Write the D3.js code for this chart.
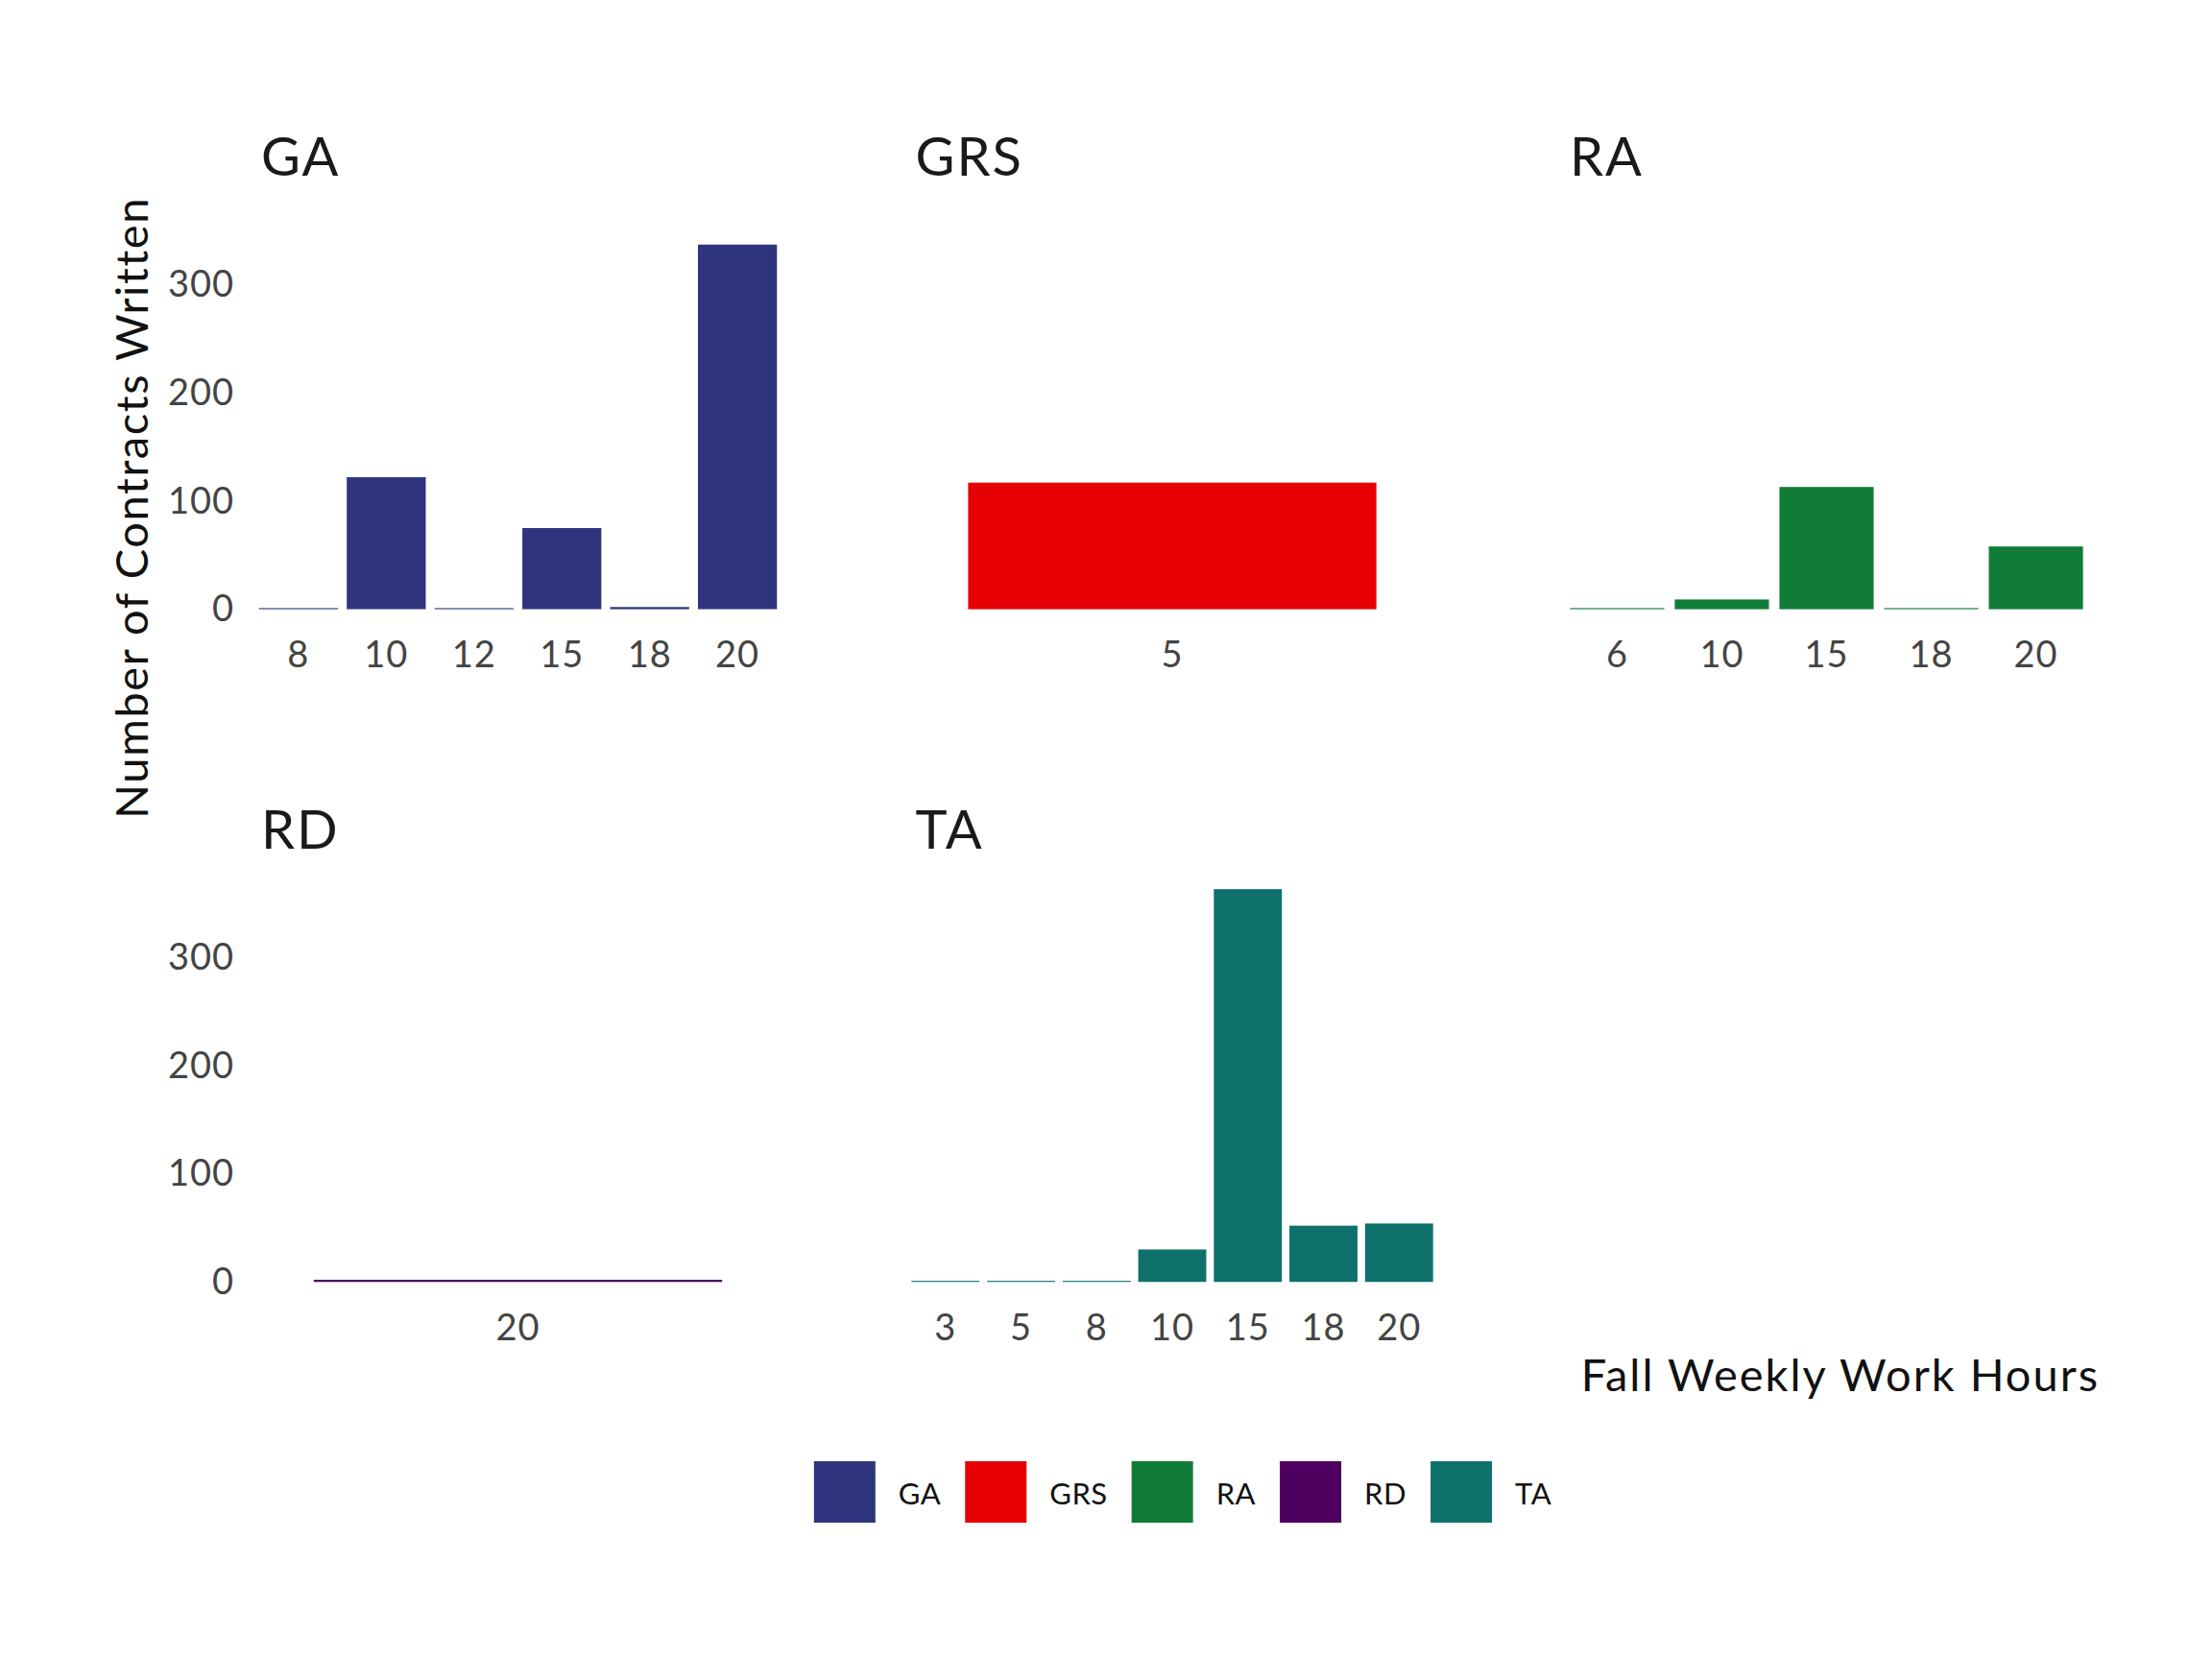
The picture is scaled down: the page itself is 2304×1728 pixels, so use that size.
<!DOCTYPE html>
<html>
<head>
<meta charset="utf-8">
<script src="https://cdn.jsdelivr.net/npm/d3@7"></script>
<style>
  body { margin: 0; background: #fff; }
  text { font-family: Lato, "Open Sans", sans-serif; }
</style>
</head>
<body>
<svg id="chart"></svg>
<script>
// contract types (facets) and their fill colours
const contractTypes = ["GA", "GRS", "RA", "RD", "TA"];
const typeColors = ["#2E357E", "#E60005", "#117C38", "#4D0060", "#0E716C"];

// weekly hours (x categories) and contract counts per facet
const hoursGA = ["8", "10", "12", "15", "18", "20"];
const countsGA = [1, 122, 1, 75, 2, 337];

const hoursGRS = ["5"];
const countsGRS = [117];

const hoursRA = ["6", "10", "15", "18", "20"];
const countsRA = [1, 9, 113, 1, 58];

const hoursRD = ["20"];
const countsRD = [2];

const hoursTA = ["3", "5", "8", "10", "15", "18", "20"];
const countsTA = [1, 1, 1, 30, 363, 52, 54];

const yTicks = [0, 100, 200, 300];

const facetData = {
  GA: { hours: hoursGA, counts: countsGA },
  GRS: { hours: hoursGRS, counts: countsGRS },
  RA: { hours: hoursRA, counts: countsRA },
  RD: { hours: hoursRD, counts: countsRD },
  TA: { hours: hoursTA, counts: countsTA }
};

const width = 2304;
const height = 1728;

const svg = d3.select("#chart")
  .attr("width", width)
  .attr("height", height);

svg.append("rect")
  .attr("width", width)
  .attr("height", height)
  .attr("fill", "#fff");

// facet grid geometry
const panelW = 567;
const panelH = 450;
const colX = [256, 937.5, 1619];
const rowY = [205, 905.7];

// shared y scale (ggplot style 5% expansion on both ends)
const yMax = d3.max([countsGA, countsGRS, countsRA, countsRD, countsTA].flat());
const pad = yMax * 0.05;
const yScale = d3.scaleLinear()
  .domain([-pad, yMax + pad])
  .range([panelH, 0]);

const color = d3.scaleOrdinal().domain(contractTypes).range(typeColors);

contractTypes.forEach((type, i) => {
  const col = i % 3;
  const row = Math.floor(i / 3);
  const { hours, counts } = facetData[type];

  const g = svg.append("g")
    .attr("transform", `translate(${colX[col]},${rowY[row]})`);

  const x = d3.scaleBand()
    .domain(hours)
    .range([0, panelW])
    .paddingInner(0.1)
    .paddingOuter(0.15);

  // strip title
  g.append("text")
    .attr("x", 16)
    .attr("y", -22)
    .attr("font-size", 56)
    .attr("letter-spacing", 2)
    .attr("fill", "#1a1a1a")
    .text(type);

  // bars
  g.selectAll("rect.bar")
    .data(hours.map((h, j) => ({ h, v: counts[j] })))
    .join("rect")
    .attr("class", "bar")
    .attr("x", d => x(d.h))
    .attr("width", x.bandwidth())
    .attr("y", d => yScale(d.v))
    .attr("height", d => yScale(0) - yScale(d.v))
    .attr("fill", color(type));

  // x axis
  const xAxis = g.append("g")
    .attr("transform", `translate(0,${panelH})`)
    .call(d3.axisBottom(x).tickSize(0).tickPadding(13));
  xAxis.select(".domain").remove();
  xAxis.selectAll("text")
    .attr("font-size", 38)
    .attr("letter-spacing", 1)
    .attr("fill", "#444")
    .attr("font-family", "Lato, sans-serif");

  // y axis only on left column
  if (col === 0) {
    const yAxis = g.append("g")
      .call(d3.axisLeft(yScale).tickValues(yTicks).tickSize(0).tickPadding(12));
    yAxis.select(".domain").remove();
    yAxis.selectAll("text")
      .attr("font-size", 38)
      .attr("letter-spacing", 1)
      .attr("fill", "#444")
      .attr("font-family", "Lato, sans-serif");
  }
});

// axis titles
svg.append("text")
  .attr("transform", `translate(154,${rowY[0]}) rotate(-90)`)
  .attr("text-anchor", "end")
  .attr("font-size", 47)
  .attr("letter-spacing", 1.6)
  .attr("fill", "#111")
  .text("Number of Contracts Written");

svg.append("text")
  .attr("x", colX[2] + panelW + 1)
  .attr("y", 1449)
  .attr("text-anchor", "end")
  .attr("font-size", 47)
  .attr("letter-spacing", 2)
  .attr("fill", "#111")
  .text("Fall Weekly Work Hours");

// legend
const keySize = 64;
const legend = svg.append("g");
let lx = 0;
contractTypes.forEach(type => {
  const item = legend.append("g").attr("transform", `translate(${lx},0)`);
  item.append("rect")
    .attr("width", keySize)
    .attr("height", keySize)
    .attr("fill", color(type));
  const t = item.append("text")
    .attr("x", keySize + 24)
    .attr("y", 45)
    .attr("font-size", 31)
    .attr("letter-spacing", 0.5)
    .attr("fill", "#111")
    .text(type);
  lx += keySize + 24 + t.node().getComputedTextLength() + 25;
});
const legendW = lx - 25;
legend.attr("transform", `translate(${1232 - legendW / 2},1522)`);
</script>
</body>
</html>
